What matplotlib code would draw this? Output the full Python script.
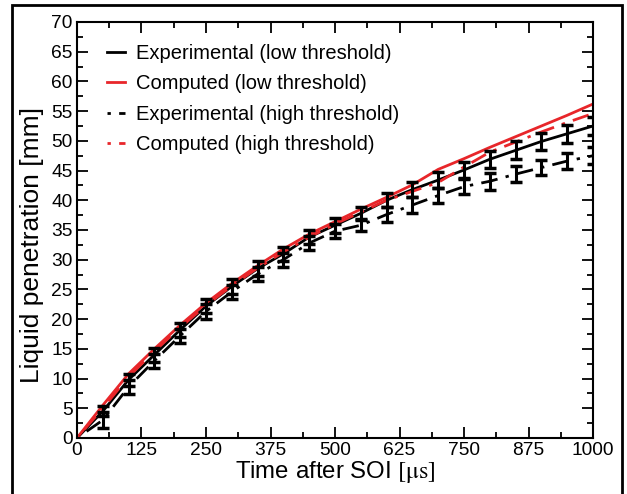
import matplotlib
matplotlib.use("Agg")
import matplotlib.pyplot as plt
from matplotlib.ticker import MultipleLocator
from matplotlib.patches import Rectangle

plt.rcParams['font.family'] = ['Liberation Sans', 'DejaVu Sans']
plt.rcParams['mathtext.fontset'] = 'stix'

t_exp = [0, 50, 100, 150, 200, 250, 300, 350, 400, 450, 500, 550, 600, 650, 700,
         750, 800, 850, 900, 950, 1000]
exp_low = [0, 4.5, 9.8, 14.0, 18.2, 22.2, 25.5, 28.5, 31.0, 33.8, 35.8, 37.8, 40.0,
           41.8, 43.4, 45.1, 46.9, 48.4, 49.9, 51.2, 52.5]
exp_low_err = [0, 0.8, 1.0, 1.2, 1.2, 1.2, 1.2, 1.2, 1.2, 1.2, 1.3, 1.1, 1.2,
               1.3, 1.4, 1.4, 1.4, 1.5, 1.5, 1.5, 1.5]
exp_high = [0, 3.0, 8.6, 13.0, 17.2, 21.3, 24.6, 27.6, 30.0, 32.8, 34.8, 35.8, 37.6,
            39.2, 40.8, 42.3, 43.2, 44.4, 45.5, 46.6, 47.5]
exp_high_err = [0, 1.3, 1.2, 1.2, 1.2, 1.2, 1.2, 1.2, 1.2, 1.2, 1.2, 1.0, 1.2,
                1.3, 1.2, 1.3, 1.4, 1.4, 1.3, 1.4, 1.4]

t_comp = [0, 50, 100, 150, 200, 250, 300, 350, 400, 450, 500, 550, 600, 650, 700,
          750, 800, 850, 900, 950, 1000]
comp_low = [0, 5.5, 10.8, 15.0, 19.0, 22.7, 26.0, 29.0, 31.8, 34.3, 36.4, 38.5, 40.5,
            42.6, 45.2, 47.0, 48.9, 50.7, 52.5, 54.3, 56.2]
comp_high = [0, 5.0, 10.3, 14.6, 18.6, 22.3, 25.6, 28.6, 31.3, 33.8, 36.0, 38.0, 40.0,
             41.5, 43.0, 45.6, 48.1, 49.8, 51.5, 53.1, 54.6]

fig = plt.figure(figsize=(6.27, 4.94), dpi=100)
ax = fig.add_axes([0.1228, 0.1134, 0.8230, 0.8421])

# outer frame
fig.patches.append(Rectangle((12 / 627, -0.05), (622 - 12) / 627, 1 - 5 / 494 + 0.05,
                             transform=fig.transFigure, fill=False, lw=2.0,
                             edgecolor='black', zorder=0))

lw = 2.0
red = '#e8262a'
ax.plot(t_exp, exp_low, color='black', lw=lw, label='Experimental (low threshold)')
ax.plot(t_comp, comp_low, color=red, lw=lw, label='Computed (low threshold)')
ax.plot(t_exp, exp_high, color='black', lw=lw, dashes=[1.2, 3, 6, 3],
        label='Experimental (high threshold)')
ax.plot(t_comp, comp_high, color=red, lw=lw, dashes=[1.2, 3, 6, 3],
        label='Computed (high threshold)')

ax.errorbar(t_exp[1:], exp_low[1:], yerr=exp_low_err[1:], fmt='none', ecolor='black',
            elinewidth=2.2, capsize=4.5, capthick=2.5)
ax.errorbar(t_exp[1:], exp_high[1:], yerr=exp_high_err[1:], fmt='none', ecolor='black',
            elinewidth=2.2, capsize=4.5, capthick=2.5)

ax.set_xlim(0, 1000)
ax.set_ylim(0, 70)
ax.xaxis.set_major_locator(MultipleLocator(125))
ax.xaxis.set_minor_locator(MultipleLocator(62.5))
ax.yaxis.set_major_locator(MultipleLocator(5))
ax.yaxis.set_minor_locator(MultipleLocator(2.5))
ax.tick_params(which='both', direction='in', top=True, right=True, labelsize=13.8,
               width=1.3, pad=3)
ax.tick_params(which='major', length=8)
ax.tick_params(which='minor', length=4)
for s in ax.spines.values():
    s.set_linewidth(1.5)

ax.set_xlabel(r'Time after SOI $[\mathrm{\mu s}]$', fontsize=17.3, labelpad=0)
ax.set_ylabel('Liquid penetration [mm]', fontsize=19)
ax.yaxis.set_label_coords(-0.064, 0.465)

ax.legend(loc='upper left', frameon=False, fontsize=14.5, handlelength=0.9,
          handletextpad=0.55, labelspacing=0.56, borderaxespad=0, borderpad=0,
          bbox_to_anchor=(0.058, 0.947))

fig.savefig('out.png', dpi=100)
